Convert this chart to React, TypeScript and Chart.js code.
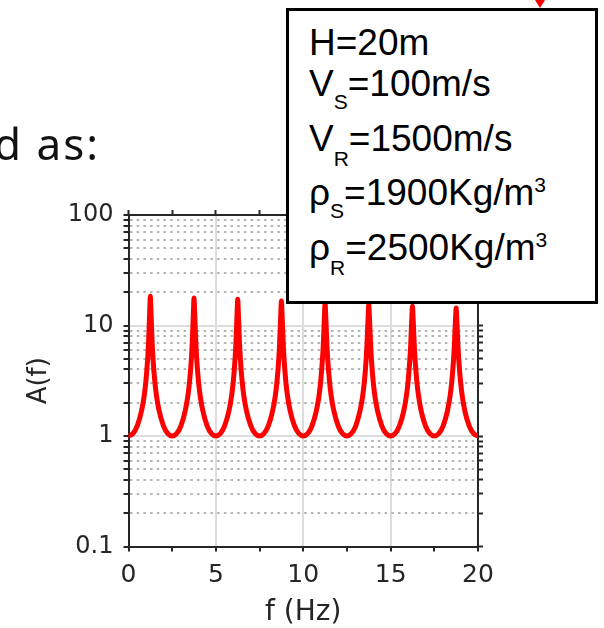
import React, { useEffect, useRef } from 'react';
import { Chart, registerables } from 'chart.js';

Chart.register(...registerables);

// ---- data ----
const freqHz = [
  0, 0.25, 0.5, 0.75, 0.9, 1.0, 1.1, 1.15, 1.2, 1.225, 1.25, 1.275, 1.3, 1.35, 1.4, 1.5, 1.6, 1.75, 2.0, 2.25,
  2.5, 2.75, 3.0, 3.25, 3.4, 3.5, 3.6, 3.65, 3.7, 3.725, 3.75, 3.775, 3.8, 3.85, 3.9, 4.0, 4.1, 4.25, 4.5, 4.75,
  5.0, 5.25, 5.5, 5.75, 5.9, 6.0, 6.1, 6.15, 6.2, 6.225, 6.25, 6.275, 6.3, 6.35, 6.4, 6.5, 6.6, 6.75, 7.0, 7.25,
  7.5, 7.75, 8.0, 8.25, 8.4, 8.5, 8.6, 8.65, 8.7, 8.725, 8.75, 8.775, 8.8, 8.85, 8.9, 9.0, 9.1, 9.25, 9.5, 9.75,
  10.0, 10.25, 10.5, 10.75, 10.9, 11.0, 11.1, 11.15, 11.2, 11.225, 11.25, 11.275, 11.3, 11.35, 11.4, 11.5, 11.6, 11.75, 12.0, 12.25,
  12.5, 12.75, 13.0, 13.25, 13.4, 13.5, 13.6, 13.65, 13.7, 13.725, 13.75, 13.775, 13.8, 13.85, 13.9, 14.0, 14.1, 14.25, 14.5, 14.75,
  15.0, 15.25, 15.5, 15.75, 15.9, 16.0, 16.1, 16.15, 16.2, 16.225, 16.25, 16.275, 16.3, 16.35, 16.4, 16.5, 16.6, 16.75, 17.0, 17.25,
  17.5, 17.75, 18.0, 18.25, 18.4, 18.5, 18.6, 18.65, 18.7, 18.725, 18.75, 18.775, 18.8, 18.85, 18.9, 19.0, 19.1, 19.25, 19.5, 19.75,
  20.0,
];

const amplitude = [
  1.0, 1.05, 1.235, 1.70, 2.32, 3.18, 5.1, 7.2, 11.6, 15.2, 18.4, 15.2, 11.6, 7.2, 5.1, 3.18, 2.32, 1.70, 1.235, 1.05,
  1.0, 1.05, 1.235, 1.70, 2.32, 3.17, 5.05, 7.1, 11.4, 14.8, 17.7, 14.8, 11.4, 7.1, 5.05, 3.17, 2.32, 1.70, 1.235, 1.05,
  1.0, 1.05, 1.234, 1.69, 2.31, 3.16, 5.05, 7.1, 11.3, 14.5, 17.3, 14.5, 11.3, 7.1, 5.05, 3.16, 2.31, 1.69, 1.234, 1.05,
  1.0, 1.05, 1.233, 1.69, 2.31, 3.15, 5.0, 7.0, 11.1, 14.1, 16.7, 14.1, 11.1, 7.0, 5.0, 3.15, 2.31, 1.69, 1.233, 1.05,
  1.0, 1.05, 1.232, 1.69, 2.30, 3.14, 4.98, 6.9, 10.9, 13.7, 16.1, 13.7, 10.9, 6.9, 4.98, 3.14, 2.30, 1.69, 1.232, 1.05,
  1.0, 1.05, 1.231, 1.69, 2.30, 3.13, 4.95, 6.9, 10.7, 13.3, 15.5, 13.3, 10.7, 6.9, 4.95, 3.13, 2.30, 1.69, 1.231, 1.05,
  1.0, 1.05, 1.230, 1.68, 2.29, 3.12, 4.92, 6.8, 10.5, 12.9, 14.9, 12.9, 10.5, 6.8, 4.92, 3.12, 2.29, 1.68, 1.230, 1.05,
  1.0, 1.05, 1.229, 1.68, 2.29, 3.11, 4.9, 6.7, 10.3, 12.5, 14.4, 12.5, 10.3, 6.7, 4.9, 3.11, 2.29, 1.68, 1.229, 1.05,
  1.0,
];

const xTickValues = [0, 2.5, 5, 7.5, 10, 12.5, 15, 17.5, 20];
const xLabelValues = [0, 5, 10, 15, 20];
const yTickValues = [
  0.1, 0.2, 0.3, 0.4, 0.5, 0.6, 0.7, 0.8, 0.9,
  1, 2, 3, 4, 5, 6, 7, 8, 9,
  10, 20, 30, 40, 50, 60, 70, 80, 90,
  100,
];
const yLabelValues = [0.1, 1, 10, 100];

const xTitle = 'f (Hz)';
const yTitle = 'A(f)';
const headingText = 'd as:';

const legendLines = [
  { base: 'H=20m', sub: '', rest: '', sup: '' },
  { base: 'V', sub: 'S', rest: '=100m/s', sup: '' },
  { base: 'V', sub: 'R', rest: '=1500m/s', sup: '' },
  { base: 'ρ', sub: 'S', rest: '=1900Kg/m', sup: '3' },
  { base: 'ρ', sub: 'R', rest: '=2500Kg/m', sup: '3' },
];

// ---- styles ----
const AXIS = '#262626';
const MAJOR_GRID = '#dddddd';
const MINOR_GRID = '#b4b4b4';
const CLEAR = 'rgba(0,0,0,0)';
const TICK_FONT = 'DejaVu Sans';

const isDecade = (v: number) => Math.abs(Math.log10(v) - Math.round(Math.log10(v))) < 1e-6;

const legendTops = [12.7, 54.4, 109.4, 162.7, 217.7];
const subOffsets: Record<string, number> = { S: 13, R: 15 };

export default function App() {
  const canvasRef = useRef<HTMLCanvasElement | null>(null);

  useEffect(() => {
    const canvas = canvasRef.current;
    if (!canvas) return;
    const chart = new Chart(canvas, {
      type: 'line',
      data: {
        datasets: [
          {
            data: freqHz.map((f, i) => ({ x: f, y: amplitude[i] })),
            borderColor: '#ff0000',
            borderWidth: 5,
            pointRadius: 0,
            fill: false,
            cubicInterpolationMode: 'monotone',
            borderJoinStyle: 'round',
            borderCapStyle: 'round',
          },
        ],
      },
      options: {
        animation: false,
        responsive: false,
        devicePixelRatio: 1,
        layout: { padding: 0 },
        plugins: { legend: { display: false }, tooltip: { enabled: false } },
        scales: {
          x: {
            type: 'linear',
            position: 'bottom',
            min: 0,
            max: 20,
            afterBuildTicks: (s: any) => {
              s.ticks = xTickValues.map((v) => ({ value: v }));
            },
            afterFit: (s: any) => {
              s.height = 81.5;
            },
            ticks: {
              autoSkip: false,
              maxRotation: 0,
              padding: 9,
              color: AXIS,
              font: { family: TICK_FONT, size: 25 },
              callback: (v: any) => (xLabelValues.includes(Number(v)) ? String(v) : ''),
            },
            grid: {
              color: (ctx: any) => {
                const v = ctx.tick ? ctx.tick.value : null;
                return v != null && v % 5 === 0 && v > 0 && v < 20 ? MAJOR_GRID : CLEAR;
              },
              lineWidth: 2,
              tickColor: AXIS,
              tickLength: 5,
              tickWidth: 2,
            },
            border: { color: AXIS, width: 2 },
            title: {
              display: true,
              text: xTitle,
              color: AXIS,
              font: { family: TICK_FONT, size: 28, lineHeight: 1 },
              padding: { top: 0, bottom: 1.6 },
            },
          },
          x2: {
            type: 'linear',
            position: 'top',
            min: 0,
            max: 20,
            afterBuildTicks: (s: any) => {
              s.ticks = xTickValues.map((v) => ({ value: v }));
            },
            afterFit: (s: any) => {
              s.height = 215;
            },
            ticks: { display: false, autoSkip: false },
            grid: { drawOnChartArea: false, tickColor: AXIS, tickLength: 5, tickWidth: 2 },
            border: { color: AXIS, width: 2 },
          },
          y: {
            type: 'logarithmic',
            position: 'left',
            min: 0.1,
            max: 100,
            afterBuildTicks: (s: any) => {
              s.ticks = yTickValues.map((v) => ({ value: v }));
            },
            afterFit: (s: any) => {
              s.width = 128.5;
            },
            ticks: {
              autoSkip: false,
              padding: 10,
              color: AXIS,
              font: { family: TICK_FONT, size: 24 },
              callback: (v: any) => (yLabelValues.includes(Number(v)) ? String(v) : ''),
            },
            grid: {
              color: (ctx: any) => {
                const v = ctx.tick ? ctx.tick.value : null;
                if (v == null || v <= 0.1 || v >= 100) return CLEAR;
                return isDecade(v) ? MAJOR_GRID : MINOR_GRID;
              },
              lineWidth: 2,
              tickColor: AXIS,
              tickLength: 5,
              tickWidth: 2,
            },
            border: {
              color: AXIS,
              width: 2,
              dash: (ctx: any) => {
                const v = ctx.tick ? ctx.tick.value : null;
                return v != null && !isDecade(v) ? [2.5, 4.2] : [];
              },
            },
            title: {
              display: true,
              text: yTitle,
              color: AXIS,
              font: { family: TICK_FONT, size: 26, lineHeight: 1 },
              padding: { top: 26.5, bottom: 0 },
            },
          },
          y2: {
            type: 'logarithmic',
            position: 'right',
            min: 0.1,
            max: 100,
            afterBuildTicks: (s: any) => {
              s.ticks = yTickValues.map((v) => ({ value: v }));
            },
            afterFit: (s: any) => {
              s.width = 126;
            },
            ticks: { display: false, autoSkip: false },
            grid: { drawOnChartArea: false, tickColor: AXIS, tickLength: 5, tickWidth: 2 },
            border: { color: AXIS, width: 2 },
          },
        },
      } as any,
    });
    return () => chart.destroy();
  }, []);

  return (
    <div
      style={{
        position: 'absolute',
        left: 0,
        top: 0,
        width: 604,
        height: 628,
        overflow: 'hidden',
        background: '#ffffff',
      }}
    >
      <canvas ref={canvasRef} width={604} height={628} style={{ position: 'absolute', left: 0, top: 0 }} />
      <div
        style={{
          position: 'absolute',
          left: -6,
          top: 121,
          fontFamily: "'Noto Sans', sans-serif",
          fontSize: 44,
          lineHeight: '44px',
          letterSpacing: 2,
          color: '#111111',
          whiteSpace: 'nowrap',
        }}
      >
        {headingText}
      </div>
      <div
        style={{
          position: 'absolute',
          left: 535,
          top: 0,
          width: 0,
          height: 0,
          borderLeft: '5px solid transparent',
          borderRight: '5px solid transparent',
          borderTop: '8px solid #ff0000',
        }}
      />
      <div
        style={{
          position: 'absolute',
          left: 286,
          top: 8,
          width: 312,
          height: 296,
          boxSizing: 'border-box',
          border: '3px solid #000000',
          background: '#ffffff',
          fontFamily: "'Liberation Sans', Arial, sans-serif",
          color: '#000000',
        }}
      >
        {legendLines.map((ln, i) => (
          <div
            key={i}
            style={{
              position: 'absolute',
              left: 20,
              top: legendTops[i],
              fontSize: 37,
              lineHeight: '37px',
              whiteSpace: 'nowrap',
            }}
          >
            {ln.base}
            {ln.sub ? (
              <span style={{ fontSize: 21, lineHeight: '21px', position: 'relative', top: subOffsets[ln.sub] }}>
                {ln.sub}
              </span>
            ) : null}
            {ln.rest}
            {ln.sup ? (
              <span style={{ fontSize: 21, lineHeight: '21px', position: 'relative', top: -13 }}>{ln.sup}</span>
            ) : null}
          </div>
        ))}
      </div>
    </div>
  );
}
